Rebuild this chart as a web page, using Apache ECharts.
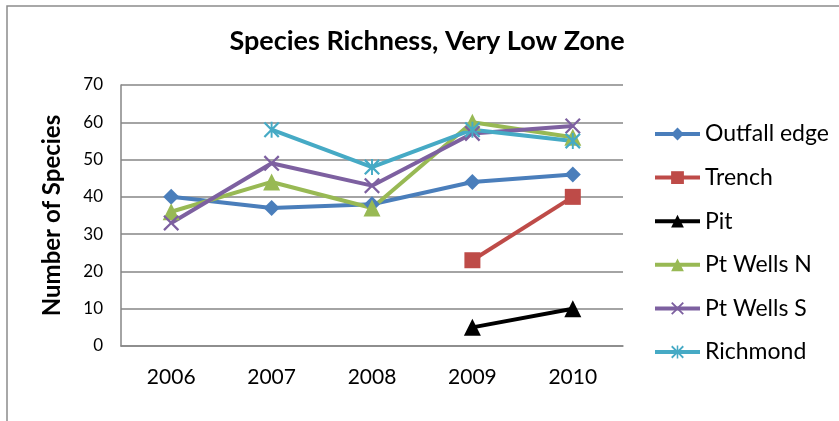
<!DOCTYPE html>
<html>
<head>
<meta charset="utf-8">
<script src="https://cdn.jsdelivr.net/npm/echarts@6/dist/echarts.min.js"></script>
<style>
  html, body { margin: 0; padding: 0; background: #fff; }
  #chart { width: 839px; height: 421px; }
</style>
</head>
<body>
<div id="chart"></div>
<script>
// Survey years along the x axis
const years = ['2006', '2007', '2008', '2009', '2010'];

// Species counts per station (null = not sampled that year)
const outfallEdge = [40, 37, 38, 44, 46];
const trench      = [null, null, null, 23, 40];
const pit         = [null, null, null, 5, 10];
const ptWellsN    = [36, 44, 37, 60, 56];
const ptWellsS    = [33, 49, 43, 57, 59];
const richmond    = [null, 58, 48, 58, 55];

const FONT = 'Lato, "Open Sans", sans-serif';

// Marker shapes drawn as filled outlines
const crossPath = 'path://M0,1L1,0L5,4L9,0L10,1L6,5L10,9L9,10L5,6L1,10L0,9L4,5Z';
const starPath  = 'path://M0,1L1,0L5,4L9,0L10,1L6,5L10,9L9,10L5,6L1,10L0,9L4,5Z' +
                  'M4.4,0L5.6,0L5.6,10L4.4,10Z';

function lineSeries(name, data, color, symbol, size) {
  return {
    name: name,
    type: 'line',
    data: data,
    symbol: symbol,
    symbolSize: size,
    showAllSymbol: true,
    connectNulls: false,
    lineStyle: { width: 4, color: color },
    itemStyle: { color: color },
    emphasis: { disabled: true }
  };
}

const chart = echarts.init(document.getElementById('chart'), null, { renderer: 'canvas' });

chart.setOption({
  animation: false,
  backgroundColor: '#ffffff',
  title: {
    text: 'Species Richness, Very Low Zone',
    left: 427,
    textAlign: 'center',
    top: 28,
    padding: 0,
    textStyle: { fontFamily: FONT, fontWeight: 'bold', fontSize: 27, color: '#000' }
  },
  graphic: [{
    type: 'rect',
    shape: { x: 7, y: 6, width: 900, height: 500 },
    style: { fill: 'none', stroke: '#8c8c8c', lineWidth: 1.5 },
    silent: true
  }],
  grid: { left: 121, right: 216, top: 85, bottom: 75, containLabel: false },
  xAxis: {
    type: 'category',
    data: years,
    boundaryGap: true,
    axisLine: { show: true, lineStyle: { color: '#868686', width: 1.5 } },
    axisTick: { show: false },
    axisLabel: { fontFamily: FONT, fontSize: 21, color: '#000', margin: 21 }
  },
  yAxis: {
    type: 'value',
    min: 0,
    max: 70,
    interval: 10,
    name: 'Number of Species',
    nameLocation: 'middle',
    nameGap: 57,
    nameTextStyle: { fontFamily: FONT, fontWeight: 'bold', fontSize: 24, color: '#000' },
    axisLine: { show: true, lineStyle: { color: '#868686', width: 1.5 } },
    axisTick: { show: false },
    splitLine: { show: true, lineStyle: { color: '#868686', width: 1.5 } },
    axisLabel: { fontFamily: FONT, fontSize: 17, color: '#000', margin: 18 }
  },
  legend: {
    orient: 'vertical',
    left: 653,
    top: 122,
    padding: 0,
    itemWidth: 45,
    itemHeight: 16,
    itemGap: 19.6,
    lineStyle: { width: 4 },
    textStyle: { fontFamily: FONT, fontSize: 23, color: '#000', lineHeight: 24 },
    data: ['Outfall edge', 'Trench', 'Pit', 'Pt Wells N', 'Pt Wells S', 'Richmond']
  },
  series: [
    lineSeries('Outfall edge', outfallEdge, '#4A7EBB', 'diamond', 16),
    lineSeries('Trench', trench, '#BE4B48', 'rect', 16),
    lineSeries('Pit', pit, '#000000', 'triangle', 17),
    lineSeries('Pt Wells N', ptWellsN, '#98B954', 'triangle', 17),
    lineSeries('Pt Wells S', ptWellsS, '#7D60A0', crossPath, 16),
    lineSeries('Richmond', richmond, '#46AAC5', starPath, 16)
  ]
});
</script>
</body>
</html>
